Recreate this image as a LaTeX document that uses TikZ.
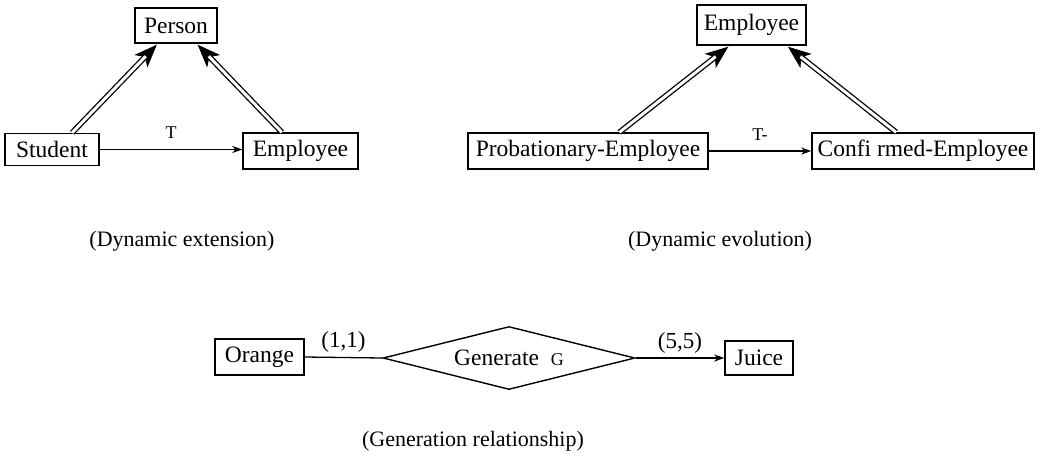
\documentclass[tikz,border=0pt]{standalone}
\usepackage{fontspec}
\setmainfont{Liberation Serif}
\usetikzlibrary{arrows.meta,shapes.geometric,calc}
\begin{document}
\begin{tikzpicture}[x=1pt,y=-1pt,
  box/.style={draw,line width=1.4pt,inner sep=0pt,font=\fontsize{23.5}{26}\selectfont},
  lbl/.style={inner sep=0pt,font=\fontsize{23}{26}\selectfont},
  smalllbl/.style={inner sep=0pt,font=\fontsize{18}{20}\selectfont},
  captext/.style={inner sep=0pt,font=\fontsize{22}{25}\selectfont},
  arr/.style={line width=1.3pt,-{Stealth[length=10pt,width=7pt,inset=3pt]}},
  plainline/.style={line width=1.3pt},
  dbl/.style={double,double distance=3pt,line width=1.3pt,shorten >=16pt},
  dblhead/.style={line width=1.3pt,-{Stealth[length=23pt,width=18pt,inset=6pt]}}
]
\useasboundingbox (0,0) rectangle (1039,459);
% left group
\node[box,minimum width=82pt,minimum height=35pt] (person) at (176,25.5) {Person};
\node[box,minimum width=94pt,minimum height=32pt] (student) at (52,149.5) {Student};
\node[box,minimum width=115pt,minimum height=36pt] (empl) at (300.5,151) {Employee};
\draw[arr] (student.east) -- (student.east -| empl.west) node[smalllbl,midway,above=10pt] (t1) {T};
\coordinate (a1s) at ($(student.north west)!0.71!(student.north east)$);
\coordinate (a1e) at ($(person.south west)!0.27!(person.south east)+(0,1)$);
\coordinate (a2s) at ($(empl.north west)!0.34!(empl.north east)$);
\coordinate (a2e) at ($(person.south west)!0.76!(person.south east)+(0,1)$);
\draw[dblhead] ($(a1e)!40pt!(a1s)$) -- (a1e);
\draw[dbl] (a1s) -- (a1e);
\draw[dblhead] ($(a2e)!40pt!(a2s)$) -- (a2e);
\draw[dbl] (a2s) -- (a2e);
\node[captext] (c1) at (182,241) {(Dynamic extension)};
% right group
\node[box,minimum width=109pt,minimum height=40pt] (empr) at (751.5,25) {Employee};
\node[box,minimum width=240pt,minimum height=36pt] (prob) at (588,151) {Probationary-Employee};
\node[box,minimum width=222pt,minimum height=36pt] (conf) at (923,151) {Confi rmed-Employee};
\draw[arr] (prob.east) -- (conf.west) node[smalllbl,midway,above=10pt] (t2) {T-};
\coordinate (b1s) at ($(prob.north west)!0.63!(prob.north east)$);
\coordinate (b1e) at ($(empr.south west)!0.29!(empr.south east)+(0,1)$);
\coordinate (b2s) at ($(conf.north west)!0.38!(conf.north east)$);
\coordinate (b2e) at ($(empr.south west)!0.83!(empr.south east)+(0,1)$);
\draw[dblhead] ($(b1e)!40pt!(b1s)$) -- (b1e);
\draw[dbl] (b1s) -- (b1e);
\draw[dblhead] ($(b2e)!40pt!(b2s)$) -- (b2e);
\draw[dbl] (b2s) -- (b2e);
\node[captext] (c2) at (720,241) {(Dynamic evolution)};
% bottom
\node[box,minimum width=89pt,minimum height=36pt] (orange) at (259.5,357) {Orange};
\node[box,minimum width=68pt,minimum height=34pt] (juice) at (759,358) {Juice};
\node[draw,diamond,aspect=4,line width=1.4pt,inner sep=0pt,minimum width=252pt,minimum height=63pt,font=\fontsize{23.5}{26}\selectfont] (gen) at (509,358) {Generate\ \ {\fontsize{18}{20}\selectfont G}};
\draw[plainline] (orange.east) -- (gen.west) node[lbl,midway,above=4pt] (n1) {(1,1)};
\draw[arr] (gen.east) -- (juice.west) node[lbl,midway,above=4pt] (n2) {(5,5)};
\node[captext] (c3) at (473,441) {(Generation relationship)};
\end{tikzpicture}
\end{document}
